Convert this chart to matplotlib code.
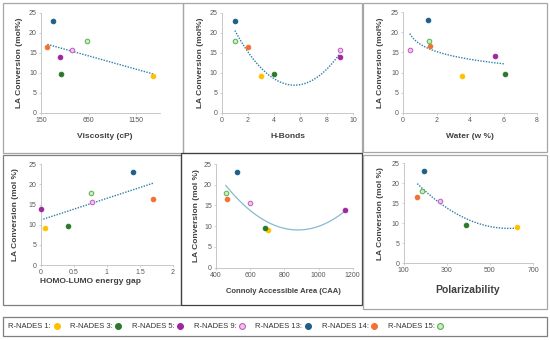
import numpy as np
import matplotlib.pyplot as plt
from matplotlib.patches import Rectangle
from matplotlib.lines import Line2D
from matplotlib.ticker import FuncFormatter

plt.rcParams['font.family'] = ['Liberation Sans', 'DejaVu Sans']

W, H = 550, 340

# data
nades = ["R-NADES 1", "R-NADES 3", "R-NADES 5", "R-NADES 9", "R-NADES 13", "R-NADES 14", "R-NADES 15"]
conversion = [9.1, 9.6, 14.0, 15.6, 23.0, 16.5, 17.9]
face = ["#FFC000", "#2A7A2A", "#A0289F", "#EEC4EE", "#1D5F86", "#F07232", "#CDEBC4"]
edge = ["#FFC000", "#2A7A2A", "#A0289F", "#C25BC2", "#1D5F86", "#F07232", "#54B24A"]

viscosity = [1330, 361, 347, 474, 280, 217, 632]
h_bonds = [3, 4, 9, 9, 1, 2, 1]
water = [3.5, 6.1, 5.5, 0.4, 1.47, 1.61, 1.55]
homo_lumo = [0.07, 0.42, 0.0, 0.78, 1.39, 1.70, 0.76]
caa = [704, 689, 1157, 601, 523, 466, 457]
polarizability = [627, 389, None, 268, 196, 163, 185]


def fx(px):
    return px / W


def fy(py):
    return 1 - py / H


# panels: x data, xlim, xticks, xlabel, ylabel, trend, axes box px (x0, ytop, x1, ybot),
# ylabel x px, xlabel (x px, y px), xlabel size
panels = [
    (viscosity, (150, 1400), [150, 650, 1150], "Viscosity (cP)", "LA Conversion (mol%)", "lin",
     (41, 12.7, 160, 113), 20, (105, 137), 6),
    (h_bonds, (0, 10), [0, 2, 4, 6, 8, 10], "H-Bonds", "LA Conversion (mol%)", "poly",
     (221.7, 12.7, 353, 113), 200.7, (288, 137), 6),
    (water, (0, 8), [0, 2, 4, 6, 8], "Water (w %)", "LA Conversion (mol%)", "log",
     (403, 12.3, 537, 112.7), 380.7, (470, 137), 6),
    (homo_lumo, (0, 2), [0, 0.5, 1, 1.5, 2], "HOMO-LUMO energy gap", "LA Conversion (mol %)", "lin",
     (40.7, 164.3, 173, 265), 16, (90, 281.7), 6),
    (caa, (400, 1200), [400, 600, 800, 1000, 1200], "Connoly Accessible Area (CAA)", "LA Conversion (mol %)", "poly_solid",
     (216, 164, 352.7, 267.7), 196.7, (283.3, 291.7), 5.5),
    (polarizability, (100, 700), [100, 300, 500, 700], "Polarizability", "LA Conversion (mol %)", "poly",
     (403.7, 163, 533, 263.3), 380.7, (468, 290), 7.5),
]

borders = [
    ((3, 3, 183, 153), "#A6A6A6"),
    ((183, 3, 362, 153), "#A6A6A6"),
    ((363, 3, 547, 152), "#A6A6A6"),
    ((3, 155, 181, 305), "#7F7F7F"),
    ((181, 153, 362, 305), "#404040"),
    ((363, 155, 547, 309), "#A6A6A6"),
    ((3, 317, 547, 336), "#7F7F7F"),
]

fig = plt.figure(figsize=(W / 100, H / 100), dpi=100)

for (x0, y0, x1, y1), col in borders:
    fig.patches.append(Rectangle((fx(x0), fy(y1)), fx(x1 - x0), (y1 - y0) / H,
                                 transform=fig.transFigure, fill=False,
                                 edgecolor=col, linewidth=0.9))

fmt = FuncFormatter(lambda v, p: "{:g}".format(v))

for xs, xlim, xticks, xlabel, ylabel, trend, box, ylx, (xlx, xly), xls in panels:
    bx0, by0, bx1, by1 = box
    ax = fig.add_axes([fx(bx0), fy(by1), fx(bx1 - bx0), (by1 - by0) / H])
    pts = [(x, y, f, e) for x, y, f, e in zip(xs, conversion, face, edge) if x is not None]
    px = np.array([p[0] for p in pts], dtype=float)
    py = np.array([p[1] for p in pts], dtype=float)

    xx = np.linspace(px.min(), px.max(), 200)
    if trend == "lin":
        yy = np.polyval(np.polyfit(px, py, 1), xx)
    elif trend == "log":
        a, b = np.polyfit(np.log(px), py, 1)
        yy = a * np.log(xx) + b
    else:
        yy = np.polyval(np.polyfit(px, py, 2), xx)
    if trend == "poly_solid":
        ax.plot(xx, yy, color="#86BBD0", lw=0.9, zorder=1)
    else:
        ax.plot(xx, yy, color="#2F7FA6", lw=1.0, ls=(0, (1, 1)), zorder=1)

    for x, y, f, e in pts:
        ax.scatter([x], [y], s=11, facecolor=f, edgecolor=e, linewidths=0.7,
                   zorder=3, clip_on=False)

    ax.set_xlim(*xlim)
    ax.set_ylim(0, 25)
    ax.set_xticks(xticks)
    ax.set_yticks([0, 5, 10, 15, 20, 25])
    ax.xaxis.set_major_formatter(fmt)
    for s in ["top", "right"]:
        ax.spines[s].set_visible(False)
    for s in ["left", "bottom"]:
        ax.spines[s].set_color("#BFBFBF")
        ax.spines[s].set_linewidth(0.6)
    ax.tick_params(length=1.5, width=0.5, color="#BFBFBF", labelsize=5,
                   labelcolor="#595959", pad=1.5)
    ax.patch.set_alpha(0)

    fig.text(fx(ylx), fy((by0 + by1) / 2), ylabel, rotation=90, ha="center", va="center",
             fontsize=6, fontweight="bold", color="#404040")
    fig.text(fx(xlx), fy(xly), xlabel, ha="center", va="center",
             fontsize=xls, fontweight="bold", color="#404040")

# legend row
handles = [Line2D([], [], ls="none", marker="o", markersize=4.2, markerfacecolor=f,
                  markeredgecolor=e, markeredgewidth=0.8) for f, e in zip(face, edge)]
labels = [n + ":" for n in nades]
leg = fig.legend(handles, labels, loc="center left", ncol=7, markerfirst=False,
                 bbox_to_anchor=(fx(6.5), fy(326.5)), frameon=False,
                 fontsize=5.5, handlelength=1.0, handletextpad=0.25, columnspacing=1.25,
                 borderpad=0.2, borderaxespad=0)
for t in leg.get_texts():
    t.set_color("#333333")

fig.savefig("out.png", dpi=100)
